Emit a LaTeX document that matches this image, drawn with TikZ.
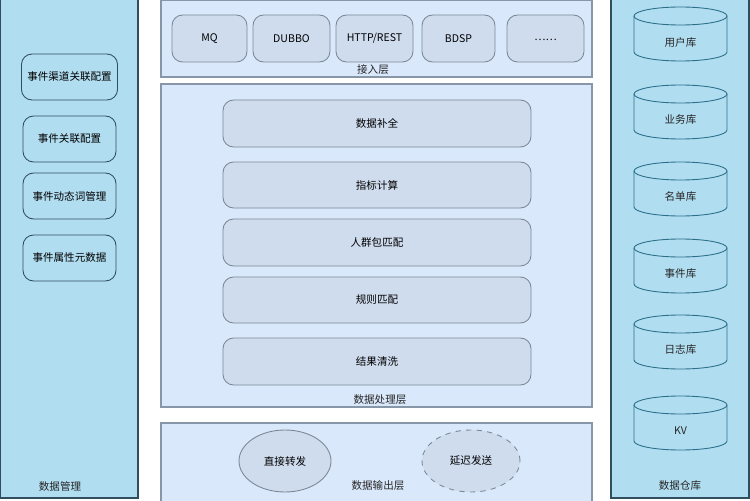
\documentclass[tikz,border=0pt]{standalone}
\usepackage{fontspec}
\setmainfont{Noto Sans CJK SC}
\usepackage{tikz}
\usetikzlibrary{shapes.geometric}
\tikzset{panel/.style={draw=panelline, fill=panelfill, line width=.6pt}}
\tikzset{layer/.style={draw=layerline, fill=layerfill, line width=.6pt}}
\tikzset{item/.style={draw=itemline, fill=itemfill, rounded corners=6pt, line width=.5pt, font=\fontsize{6}{7}\selectfont}}
\tikzset{sideitem/.style={draw=panelline, fill=panelfill, rounded corners=6pt, line width=.5pt, font=\fontsize{6}{7}\selectfont}}
\tikzset{lbl/.style={font=\fontsize{6}{7}\selectfont, text=black!85}}
\definecolor{panelfill}{HTML}{B1DDF0}
\definecolor{panelline}{HTML}{2F4F5F}
\definecolor{layerfill}{HTML}{DAE8FC}
\definecolor{layerline}{HTML}{8797A8}
\definecolor{itemfill}{HTML}{CFDCEE}
\definecolor{itemline}{HTML}{7C8896}
\definecolor{dbline}{HTML}{2B6F8A}

\begin{document}
\begin{tikzpicture}[x=0.02cm, y=-0.02cm]
\useasboundingbox (0,0) rectangle (750,500);

% side panels
\draw[panel] (0,-2) rectangle (138,498);
\draw[panel] (611,-2) rectangle (749,498);
\node[lbl] (dmlabel) at (60,486) {数据管理};
\node[lbl] (dwlabel) at (680,486) {数据仓库};

\node[sideitem, minimum width=93*0.02cm, minimum height=46*0.02cm] (cfg1) at (69.5,77) {事件渠道关联配置};
\node[sideitem, minimum width=93*0.02cm, minimum height=46*0.02cm] (cfg2) at (69.5,139) {事件关联配置};
\node[sideitem, minimum width=93*0.02cm, minimum height=46*0.02cm] (cfg3) at (69.5,196) {事件动态词管理};
\node[sideitem, minimum width=93*0.02cm, minimum height=46*0.02cm] (cfg4) at (69.5,258) {事件属性元数据};

% layers
\draw[layer] (161,0.5) rectangle (592,77);
\draw[layer] (161,84) rectangle (592,407);
\draw[layer] (161,423) rectangle (592,502);
\node[lbl] (inlabel) at (373,70) {接入层};
\node[lbl] (proclabel) at (380,400) {数据处理层};
\node[lbl] (outlabel) at (378,486) {数据输出层};

\node[item, minimum width=75*0.02cm, minimum height=47*0.02cm] (mq) at (209.5,38.5) {MQ};
\node[item, minimum width=77*0.02cm, minimum height=47*0.02cm] (dubbo) at (291.5,38.5) {DUBBO};
\node[item, minimum width=77*0.02cm, minimum height=47*0.02cm] (http) at (374.5,38.5) {HTTP/REST};
\node[item, minimum width=73*0.02cm, minimum height=47*0.02cm] (bdsp) at (458.5,38.5) {BDSP};
\node[item, minimum width=77*0.02cm, minimum height=47*0.02cm] (more) at (545.5,38.5) {\raisebox{-.8ex}{……}};

\node[item, minimum width=308*0.02cm, minimum height=47*0.02cm] (fill) at (377,123.5) {数据补全};
\node[item, minimum width=308*0.02cm, minimum height=46*0.02cm] (calc) at (377,185) {指标计算};
\node[item, minimum width=308*0.02cm, minimum height=47*0.02cm] (crowd) at (377,242.5) {人群包匹配};
\node[item, minimum width=308*0.02cm, minimum height=46*0.02cm] (rule) at (377,300) {规则匹配};
\node[item, minimum width=308*0.02cm, minimum height=47*0.02cm] (clean) at (377,361.5) {结果清洗};

\node[item, ellipse, minimum width=92*0.02cm, minimum height=62*0.02cm] (direct) at (285,461) {直接转发};
\node[item, ellipse, dashed, minimum width=98*0.02cm, minimum height=62*0.02cm] (delay) at (471,461) {延迟发送};

% cylinders
\foreach \t/\txt/\nm in {7/用户库/user, 85/业务库/biz, 162/名单库/list, 239/事件库/event, 315/日志库/log, 396/KV/kv}{
  \draw[dbline, line width=.5pt] (680.5,\t+9) ellipse [x radius=46.5, y radius=9];
  \draw[dbline, line width=.5pt] (634,\t+9) -- (634,\t+45) arc[start angle=180, end angle=0, x radius=46.5, y radius=9] -- (727,\t+9);
  \node[lbl] (\nm) at (680.5,\t+35) {\txt};
}

\end{tikzpicture}
\end{document}
